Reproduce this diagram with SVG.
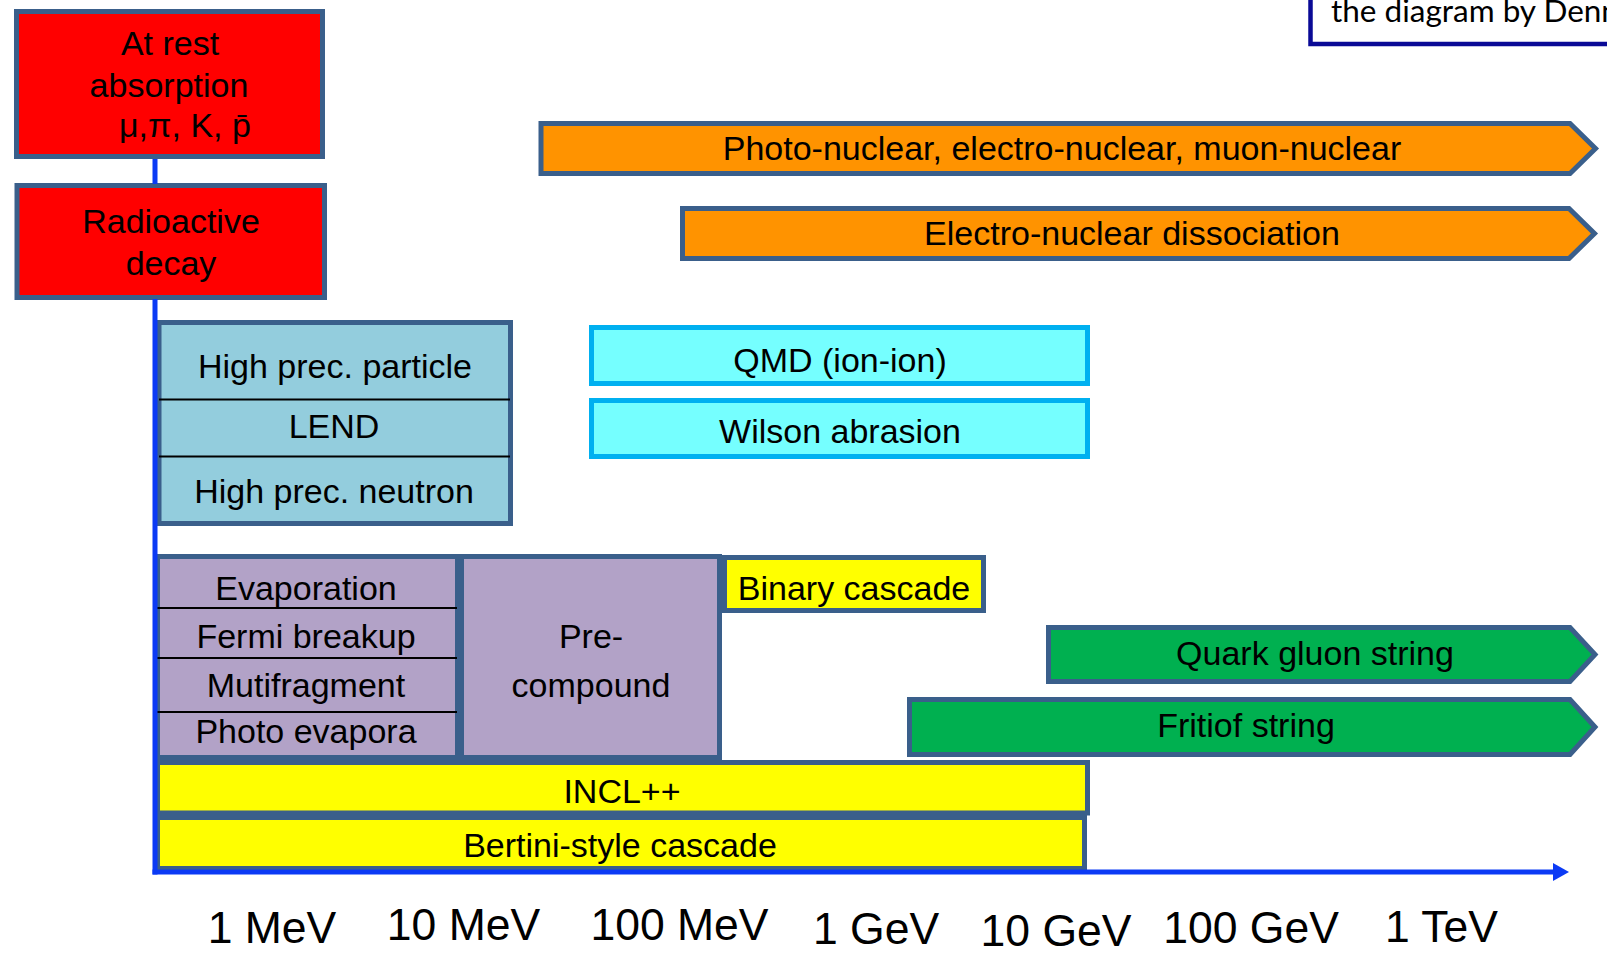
<svg xmlns="http://www.w3.org/2000/svg" width="1607" height="953" viewBox="0 0 1607 953">
<defs>
<style>
.t{font-family:"Liberation Sans",Arial,sans-serif;font-size:34px;fill:#000;text-anchor:middle}
.ax{font-family:"Liberation Sans",Arial,sans-serif;font-size:44.5px;fill:#000;text-anchor:middle}
.nb{stroke:#3A5F8B;stroke-width:5;stroke-linejoin:miter}
.red{fill:#FF0000}
.org{fill:#FF9300}
.lb{fill:#93CDDD}
.cy{fill:#75FFFF;stroke:#00B0F0;stroke-width:5}
.pur{fill:#B2A2C7}
.yel{fill:#FFFF00}
.grn{fill:#00B050}
.div{stroke:#000;stroke-width:2}
.blue{stroke:#0B3AF5;stroke-width:5;fill:none}
</style>
<marker id="axisArrow" markerUnits="userSpaceOnUse" markerWidth="16" markerHeight="18" refX="0" refY="9" orient="auto" viewBox="0 0 16 18">
<path d="M0,0 L16,9 L0,18 Z" fill="#0B3AF5"/>
</marker>
</defs>
<rect x="0" y="0" width="1607" height="953" fill="#FFFFFF"/>

<g id="note">
<rect x="1310.5" y="-30" width="400" height="74" fill="#FFFFFF" stroke="#0A0A96" stroke-width="4.5"/>
<text x="1331" y="22" style="font-family:Lato,'Open Sans',sans-serif;font-size:31.5px;fill:#000">the diagram by Denn</text>
</g>

<g id="at-rest">
<rect class="nb red" x="16.5" y="11.5" width="306" height="145"/>
<text class="t" x="170" y="55">At rest</text>
<text class="t" x="169" y="96.5">absorption</text>
<text class="t" x="119" y="137" style="text-anchor:start">μ,π, K, p̄</text>
</g>

<g id="radioactive">
<rect class="nb red" x="17" y="185.5" width="307.5" height="112"/>
<text class="t" x="171" y="233">Radioactive</text>
<text class="t" x="171" y="275">decay</text>
</g>

<g id="photo-nuclear">
<path class="nb org" d="M541,123.5 H1570 L1595.5,148.5 L1570,173.5 H541 Z"/>
<text class="t" x="1062" y="160">Photo-nuclear, electro-nuclear, muon-nuclear</text>
</g>

<g id="electro-nuclear">
<path class="nb org" d="M682.5,208.5 H1569 L1594.5,233.5 L1569,258.5 H682.5 Z"/>
<text class="t" x="1132" y="245">Electro-nuclear dissociation</text>
</g>

<g id="high-prec">
<rect class="nb lb" x="159" y="322.5" width="351.5" height="201"/>
<line class="div" x1="159" y1="399.5" x2="510" y2="399.5"/>
<line class="div" x1="159" y1="456.5" x2="510" y2="456.5"/>
<text class="t" x="335" y="378">High prec. particle</text>
<text class="t" x="334" y="438">LEND</text>
<text class="t" x="334" y="503">High prec. neutron</text>
</g>

<g id="qmd">
<rect class="cy" x="591.5" y="327.5" width="496" height="56"/>
<text class="t" x="840" y="371.5">QMD (ion-ion)</text>
</g>

<g id="wilson">
<rect class="cy" x="591.5" y="400.5" width="496" height="56"/>
<text class="t" x="840" y="443">Wilson abrasion</text>
</g>

<g id="deexcitation">
<rect class="nb pur" x="157.5" y="556.5" width="300" height="201"/>
<line class="div" x1="157" y1="608" x2="457" y2="608"/>
<line class="div" x1="157" y1="658" x2="457" y2="658"/>
<line class="div" x1="157" y1="712" x2="457" y2="712"/>
<text class="t" x="306" y="600">Evaporation</text>
<text class="t" x="306" y="648">Fermi breakup</text>
<text class="t" x="306" y="696.5">Mutifragment</text>
<text class="t" x="306" y="743">Photo evapora</text>
</g>

<g id="precompound">
<rect class="nb pur" x="461.5" y="556.5" width="258" height="201"/>
<text class="t" x="591" y="648">Pre-</text>
<text class="t" x="591" y="697">compound</text>
</g>

<g id="binary">
<rect class="nb yel" x="724.5" y="557.5" width="259" height="53"/>
<text class="t" x="854" y="600">Binary cascade</text>
</g>

<g id="quark-gluon">
<path class="nb grn" d="M1048.5,627.5 H1570 L1595,654.5 L1570,681.5 H1048.5 Z"/>
<text class="t" x="1315" y="665">Quark gluon string</text>
</g>

<g id="fritiof">
<path class="nb grn" d="M909.5,699.5 H1570 L1595,727 L1570,754.5 H909.5 Z"/>
<text class="t" x="1246" y="737">Fritiof string</text>
</g>

<g id="incl">
<rect class="nb yel" x="157.5" y="762.5" width="930" height="50.5"/>
<text class="t" x="622" y="803">INCL++</text>
</g>

<g id="bertini">
<rect class="nb yel" x="157.5" y="817.5" width="927" height="51"/>
<text class="t" x="620" y="857">Bertini-style cascade</text>
</g>

<g id="connectors">
<path class="blue" d="M155,159 V184 M155,299 V874.5"/>
<path class="blue" d="M152.5,872 H1553" marker-end="url(#axisArrow)"/>
</g>

<g id="axis-labels">
<text class="ax" x="272" y="943">1 MeV</text>
<text class="ax" x="463.5" y="940">10 MeV</text>
<text class="ax" x="679.5" y="940">100 MeV</text>
<text class="ax" x="876" y="944">1 GeV</text>
<text class="ax" x="1056" y="946">10 GeV</text>
<text class="ax" x="1251" y="943">100 GeV</text>
<text class="ax" x="1441.5" y="942">1 TeV</text>
</g>
</svg>
